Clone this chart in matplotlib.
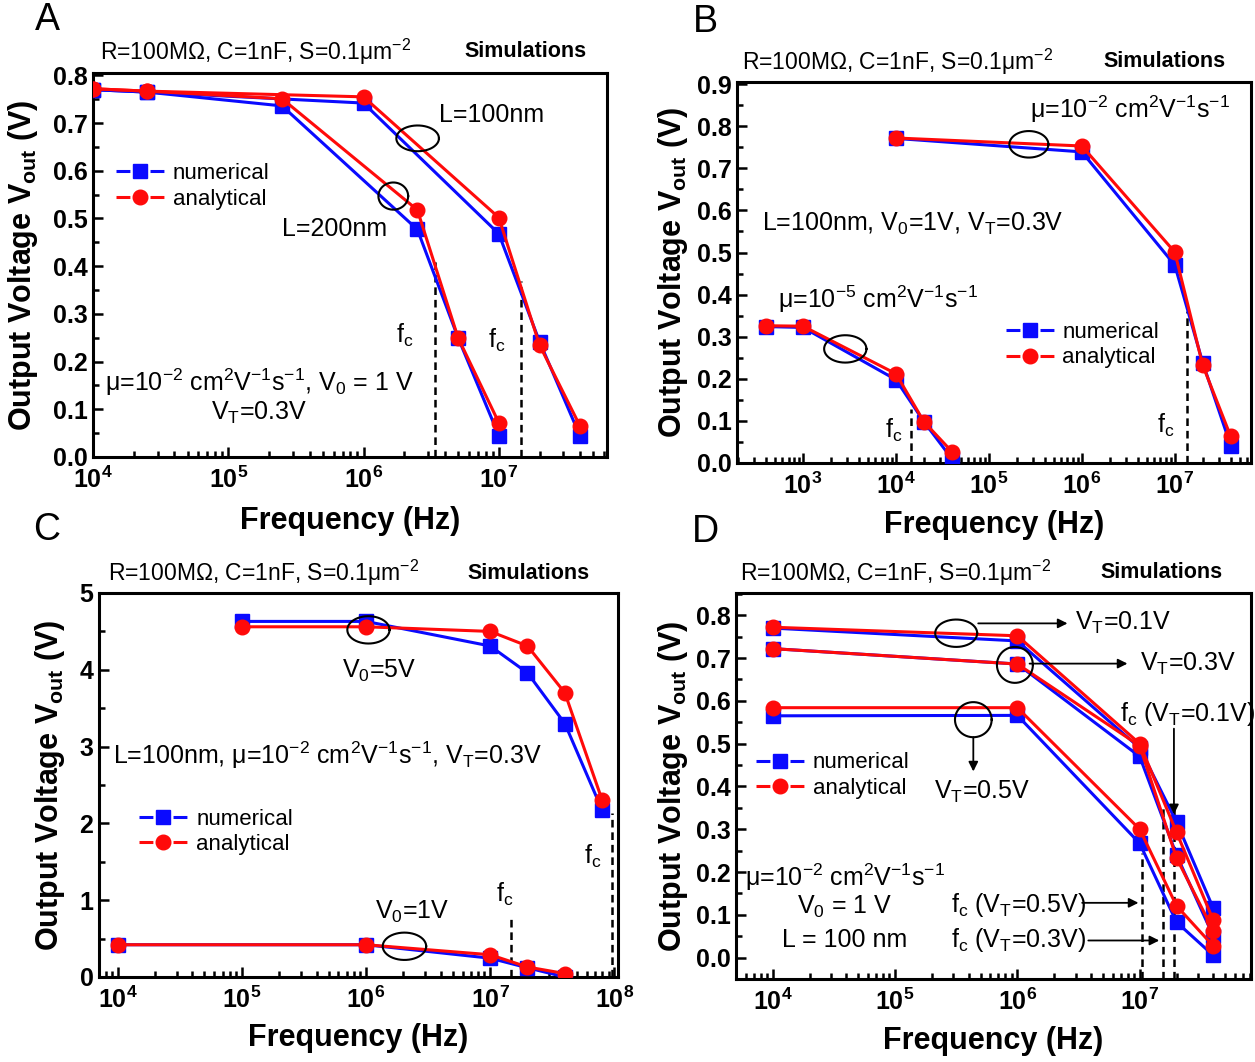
import numpy as np
import matplotlib
matplotlib.use('Agg')
import matplotlib.pyplot as plt
from matplotlib.lines import Line2D
from matplotlib.ticker import LogLocator, MultipleLocator, NullFormatter

plt.rcParams['font.family'] = ['Liberation Sans', 'DejaVu Sans']
plt.rcParams['mathtext.fontset'] = 'custom'
plt.rcParams['mathtext.rm'] = 'Liberation Sans'
plt.rcParams['mathtext.it'] = 'Liberation Sans:italic'
plt.rcParams['mathtext.bf'] = 'Liberation Sans:bold'
plt.rcParams['lines.scale_dashes'] = False

BLUE = '#0a0aff'
RED = '#ff0a0a'

# ---------------- data ----------------
# Panel A
a_freq_200 = [1e4, 2.5e4, 2.5e5, 2.5e6, 5e6, 1e7]
a_num_200 = [0.770, 0.765, 0.736, 0.477, 0.250, 0.045]
a_ana_200 = [0.772, 0.767, 0.751, 0.518, 0.250, 0.072]
a_freq_100 = [1e4, 2.5e4, 1e6, 1e7, 2e7, 4e7]
a_num_100 = [0.770, 0.765, 0.742, 0.468, 0.242, 0.043]
a_ana_100 = [0.772, 0.767, 0.755, 0.502, 0.235, 0.064]
a_fc = [3.4e6, 1.46e7]
a_fc_top = [0.41, 0.37]

# Panel B
b_freq_lo = [4e2, 1e3, 1e4, 2e4, 4e4]
b_num_lo = [0.324, 0.322, 0.198, 0.098, 0.010]
b_ana_lo = [0.326, 0.325, 0.212, 0.098, 0.027]
b_freq_hi = [1e4, 1e6, 1e7, 2e7, 4e7]
b_num_hi = [0.771, 0.739, 0.470, 0.238, 0.041]
b_ana_hi = [0.772, 0.753, 0.501, 0.232, 0.063]
b_fc = [1.45e4, 1.35e7]
b_fc_top = [0.128, 0.36]

# Panel C
c_freq_5 = [1e5, 1e6, 1e7, 2e7, 4e7, 8e7]
c_num_5 = [4.63, 4.63, 4.31, 3.96, 3.30, 2.17]
c_ana_5 = [4.56, 4.56, 4.50, 4.31, 3.70, 2.30]
c_freq_1 = [1e4, 1e6, 1e7, 2e7, 4e7]
c_num_1 = [0.42, 0.42, 0.245, 0.12, 0.0]
c_ana_1 = [0.42, 0.42, 0.29, 0.13, 0.045]
c_fc = [1.48e7, 9.5e7]
c_fc_top = [0.76, 2.13]

# Panel D
d_freq = [1e4, 1e6, 1e7, 2e7, 4e7]
d_num_01 = [0.770, 0.740, 0.490, 0.317, 0.115]
d_ana_01 = [0.772, 0.752, 0.500, 0.293, 0.087]
d_num_03 = [0.722, 0.686, 0.470, 0.240, 0.050]
d_ana_03 = [0.722, 0.686, 0.495, 0.233, 0.063]
d_num_05 = [0.565, 0.566, 0.267, 0.083, 0.005]
d_ana_05 = [0.584, 0.584, 0.300, 0.121, 0.027]
d_fc = [1.05e7, 1.55e7, 1.9e7]
d_fc_top = [0.245, 0.35, 0.35]

a_yticks = [0.0, 0.1, 0.2, 0.3, 0.4, 0.5, 0.6, 0.7, 0.8]
a_ylabels = ['0.0', '0.1', '0.2', '0.3', '0.4', '0.5', '0.6', '0.7', '0.8']
b_yticks = [0.0, 0.1, 0.2, 0.3, 0.4, 0.5, 0.6, 0.7, 0.8, 0.9]
b_ylabels = ['0.0', '0.1', '0.2', '0.3', '0.4', '0.5', '0.6', '0.7', '0.8', '0.9']
c_yticks = [0, 1, 2, 3, 4, 5]
c_ylabels = ['0', '1', '2', '3', '4', '5']
d_yticks = a_yticks
d_ylabels = a_ylabels
a_xexp = [4, 5, 6, 7]
b_xexp = [3, 4, 5, 6, 7]
c_xexp = [4, 5, 6, 7, 8]
d_xexp = [4, 5, 6, 7]

TITLE = 'R=100M\u03a9, C=1nF, S=0.1\u03bcm$^{-2}$'
MU2 = '\u03bc=10$^{-2}$ cm$^{2}$V$^{-1}$s$^{-1}$'
MU5 = '\u03bc=10$^{-5}$ cm$^{2}$V$^{-1}$s$^{-1}$'
FC = 'f$_{\\mathrm{c}}$'
ANN = 18

fig = plt.figure(figsize=(12.55, 10.62), dpi=100)


def setup(ax, xlim, ylim, xexp, yticks, ylabels, yminor, ylab_x, xlab_y):
    ax.set_xscale('log')
    ax.set_xlim(xlim)
    ax.set_ylim(ylim)
    ax.set_xticks([10.0 ** e for e in xexp],
                  labels=[r'$\mathbf{10^{%d}}$' % e for e in xexp], fontsize=18)
    ax.set_yticks(yticks, labels=ylabels, fontsize=18, fontweight='bold')
    ax.xaxis.set_minor_locator(LogLocator(base=10, subs=np.arange(2, 10) * 1.0, numticks=30))
    ax.xaxis.set_minor_formatter(NullFormatter())
    ax.yaxis.set_minor_locator(MultipleLocator(yminor))
    ax.tick_params(which='both', direction='in', top=False, right=False, width=1.8)
    ax.tick_params(which='major', length=7, pad=4)
    ax.tick_params(which='minor', length=4)
    ax.tick_params(axis='x', which='major', pad=7)
    for s in ax.spines.values():
        s.set_linewidth(2.2)
    ax.set_xlabel('Frequency (Hz)', fontsize=22, fontweight='bold')
    ax.set_ylabel(r'Output Voltage $\mathbf{V_{out}}$ (V)', fontsize=22, fontweight='bold')
    ax.yaxis.set_label_coords(ylab_x, 0.5)
    ax.xaxis.set_label_coords(0.5, xlab_y)


def pair(ax, f, num, ana):
    ax.plot(f, num, color=BLUE, lw=2.2, marker='s', ms=9.5, zorder=3)
    ax.plot(f, ana, color=RED, lw=2.2, marker='o', ms=10.5, zorder=4)


def ellipse(ax, fc, yc, wdec, h):
    t = np.linspace(0, 2 * np.pi, 200)
    ax.plot(10 ** (np.log10(fc) + wdec / 2 * np.cos(t)), yc + h / 2 * np.sin(t),
            color='k', lw=1.5, zorder=6)


def legend(ax, x, y):
    h1 = Line2D([], [], color=BLUE, lw=2.2, marker='s', ms=9.5, dashes=[10, 14.5])
    h2 = Line2D([], [], color=RED, lw=2.2, marker='o', ms=10.5, dashes=[10, 14.5])
    ax.legend([h1, h2], ['numerical', 'analytical'], loc='center left', bbox_to_anchor=(x, y),
              frameon=False, fontsize=16, handlelength=2.15, handletextpad=0.4, borderpad=0,
              borderaxespad=0, labelspacing=0.2, numpoints=1)


def titles(ax, x0, x1, y):
    ax.text(x0, y, TITLE, transform=ax.transAxes, fontsize=16.5, ha='left', va='center')
    ax.text(x1, y, 'Simulations', transform=ax.transAxes, fontsize=15.5, fontweight='bold',
            ha='right', va='center')


def fclines(ax, fcs, tops, bottom):
    ax.vlines(fcs, bottom, tops, colors='k', linestyles=(0, (5.5, 3.5)), lw=1.8, zorder=2)


def arrow(ax, xy0, xy1):
    ax.annotate('', xy=xy1, xytext=xy0,
                arrowprops=dict(arrowstyle='-|>', color='k', lw=1.3, mutation_scale=14,
                                shrinkA=0, shrinkB=0), zorder=6)


# ---------------- Panel A ----------------
axA = fig.add_axes([93 / 1255, 1 - 457 / 1062, 514 / 1255, 384 / 1062])
setup(axA, (1e4, 10 ** 7.8), (0, 0.805), a_xexp, a_yticks, a_ylabels, 0.05, -0.103, -0.128)
fclines(axA, a_fc, a_fc_top, 0)
pair(axA, a_freq_200, a_num_200, a_ana_200)
pair(axA, a_freq_100, a_num_100, a_ana_100)
ellipse(axA, 10 ** 6.4, 0.668, 0.315, 0.054)
ellipse(axA, 10 ** 6.22, 0.547, 0.22, 0.057)
axA.text(10 ** 6.56, 0.718, 'L=100nm', fontsize=ANN, va='center')
axA.text(10 ** 5.40, 0.477, 'L=200nm', fontsize=ANN, va='center')
axA.text(10 ** 6.24, 0.255, FC, fontsize=ANN, va='center')
axA.text(10 ** 6.92, 0.245, FC, fontsize=ANN, va='center')
axA.text(10 ** 5.23, 0.157, MU2 + ', V$_{0}$ = 1 V', fontsize=ANN, ha='center', va='center')
axA.text(10 ** 5.23, 0.092, 'V$_{\\mathrm{T}}$=0.3V', fontsize=ANN, ha='center', va='center')
legend(axA, 0.045, 0.705)
titles(axA, 0.014, 0.961, 1.055)

# ---------------- Panel B ----------------
axB = fig.add_axes([737 / 1255, 1 - 463 / 1062, 514 / 1255, 381 / 1062])
setup(axB, (10 ** 2.29, 10 ** 7.82), (0, 0.905), b_xexp, b_yticks, b_ylabels, 0.05, -0.091, -0.124)
fclines(axB, b_fc, b_fc_top, 0)
pair(axB, b_freq_lo, b_num_lo, b_ana_lo)
pair(axB, b_freq_hi, b_num_hi, b_ana_hi)
ellipse(axB, 10 ** 5.43, 0.757, 0.42, 0.063)
ellipse(axB, 10 ** 3.455, 0.271, 0.455, 0.065)
axB.text(10 ** 5.44, 0.839, MU2, fontsize=ANN, va='center')
axB.text(10 ** 2.56, 0.569, 'L=100nm, V$_{0}$=1V, V$_{\\mathrm{T}}$=0.3V', fontsize=ANN, va='center')
axB.text(10 ** 2.73, 0.39, MU5, fontsize=ANN, va='center')
axB.text(10 ** 3.88, 0.078, FC, fontsize=ANN, va='center')
axB.text(10 ** 6.81, 0.09, FC, fontsize=ANN, va='center')
legend(axB, 0.523, 0.309)
titles(axB, 0.01, 0.951, 1.053)

# ---------------- Panel C ----------------
axC = fig.add_axes([99 / 1255, 1 - 977 / 1062, 519 / 1255, 384 / 1062])
setup(axC, (10 ** 3.85, 10 ** 8.03), (0, 5.0), c_xexp, c_yticks, c_ylabels, 0.5, -0.062, -0.12)
fclines(axC, c_fc, c_fc_top, 0)
pair(axC, c_freq_5, c_num_5, c_ana_5)
pair(axC, c_freq_1, c_num_1, c_ana_1)
ellipse(axC, 10 ** 6.02, 4.52, 0.34, 0.356)
ellipse(axC, 10 ** 6.31, 0.40, 0.35, 0.356)
axC.text(10 ** 6.11, 3.98, 'V$_{0}$=5V', fontsize=ANN, ha='center', va='center')
axC.text(10 ** 3.96, 2.89, 'L=100nm, ' + MU2 + ', V$_{\\mathrm{T}}$=0.3V', fontsize=ANN, va='center')
axC.text(10 ** 6.37, 0.85, 'V$_{0}$=1V', fontsize=ANN, ha='center', va='center')
axC.text(10 ** 7.05, 1.07, FC, fontsize=ANN, va='center')
axC.text(10 ** 7.76, 1.57, FC, fontsize=ANN, va='center')
legend(axC, 0.078, 0.378)
titles(axC, 0.017, 0.946, 1.052)

# ---------------- Panel D ----------------
axD = fig.add_axes([736 / 1255, 1 - 979 / 1062, 515 / 1255, 386 / 1062])
setup(axD, (10 ** 3.70, 10 ** 7.91), (-0.05, 0.852), d_xexp, d_yticks, d_ylabels, 0.05, -0.089, -0.122)
fclines(axD, d_fc, d_fc_top, -0.05)
pair(axD, d_freq, d_num_01, d_ana_01)
pair(axD, d_freq, d_num_03, d_ana_03)
pair(axD, d_freq, d_num_05, d_ana_05)
ellipse(axD, 10 ** 5.50, 0.758, 0.343, 0.064)
ellipse(axD, 10 ** 5.98, 0.684, 0.294, 0.084)
ellipse(axD, 10 ** 5.64, 0.556, 0.30, 0.082)
arrow(axD, (10 ** 5.68, 0.781), (10 ** 6.41, 0.781))
arrow(axD, (10 ** 6.10, 0.687), (10 ** 6.90, 0.687))
arrow(axD, (10 ** 5.64, 0.515), (10 ** 5.64, 0.435))
arrow(axD, (10 ** 7.28, 0.535), (10 ** 7.28, 0.335))
arrow(axD, (10 ** 6.53, 0.128), (10 ** 6.99, 0.128))
arrow(axD, (10 ** 6.58, 0.04), (10 ** 7.16, 0.04))
axD.text(10 ** 6.47, 0.781, 'V$_{\\mathrm{T}}$=0.1V', fontsize=ANN, va='center')
axD.text(10 ** 7.0, 0.687, 'V$_{\\mathrm{T}}$=0.3V', fontsize=ANN, va='center')
axD.text(10 ** 6.84, 0.57, FC + ' (V$_{\\mathrm{T}}$=0.1V)', fontsize=ANN, va='center')
axD.text(10 ** 5.71, 0.388, 'V$_{\\mathrm{T}}$=0.5V', fontsize=ANN, ha='center', va='center')
axD.text(10 ** 4.59, 0.188, MU2, fontsize=ANN, ha='center', va='center')
axD.text(10 ** 4.59, 0.118, 'V$_{0}$ = 1 V', fontsize=ANN, ha='center', va='center')
axD.text(10 ** 4.59, 0.042, 'L = 100 nm', fontsize=ANN, ha='center', va='center')
axD.text(10 ** 5.46, 0.124, FC + ' (V$_{\\mathrm{T}}$=0.5V)', fontsize=ANN, va='center')
axD.text(10 ** 5.46, 0.04, FC + ' (V$_{\\mathrm{T}}$=0.3V)', fontsize=ANN, va='center')
legend(axD, 0.039, 0.527)
titles(axD, 0.008, 0.944, 1.052)

# panel letters
for letter, (px, py) in zip('ABCD', [(47, 20), (705, 22), (47, 530), (705, 532)]):
    fig.text(px / 1255, 1 - py / 1062, letter, fontsize=27, ha='center', va='center')

fig.savefig('out.png', dpi=100)
